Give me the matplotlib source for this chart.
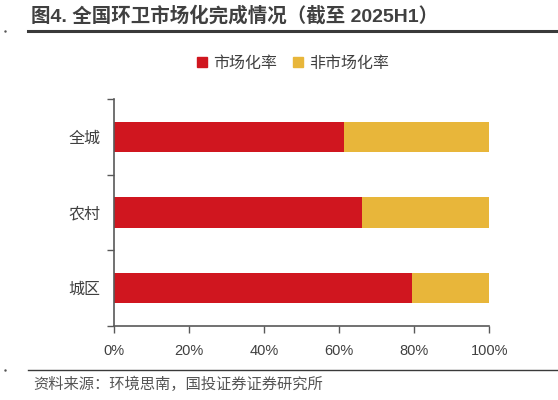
import matplotlib.pyplot as plt
from matplotlib.lines import Line2D
from matplotlib.patches import Patch

plt.rcParams['font.family'] = ['Liberation Sans', 'Noto Sans CJK SC', 'DejaVu Sans']

# data (bottom to top)
categories = ['城区', '农村', '全城']
market_rate = [79.4, 66.0, 61.3]
non_market_rate = [20.6, 34.0, 38.7]
xticks = [0, 20, 40, 60, 80, 100]

red = '#D0161F'
yellow = '#E8B63A'
text_color = '#404040'
axis_color = '#595959'

fig = plt.figure(figsize=(5.58, 4.0), dpi=100)
ax = fig.add_axes([0.2048, 0.185, 0.6721, 0.5675])

ypos = list(range(len(categories)))
ax.barh(ypos, market_rate, height=0.4, color=red, label='市场化率')
ax.barh(ypos, non_market_rate, left=market_rate, height=0.4, color=yellow, label='非市场化率')

ax.set_xlim(0, 100)
ax.set_ylim(-0.5, len(categories) - 0.5)
ax.set_xticks(xticks)
ax.set_xticklabels([f'{v}%' for v in xticks], fontsize=10.5, color=text_color)

# tick marks between categories, labels at centres
ax.set_yticks([i - 0.5 for i in range(len(categories) + 1)])
ax.set_yticklabels([])
ax.set_yticks(ypos, minor=True)
ax.set_yticklabels(categories, minor=True, fontsize=11.5, color=text_color)
ax.tick_params(axis='y', which='major', length=5, width=1, color=axis_color, direction='out')
ax.tick_params(axis='y', which='minor', length=0, pad=10)
ax.tick_params(axis='x', length=5, width=1, color=axis_color, direction='out', pad=8)

for s in ['top', 'right']:
    ax.spines[s].set_visible(False)
for s in ['left', 'bottom']:
    ax.spines[s].set_color(axis_color)
    ax.spines[s].set_linewidth(1.2)

fig.legend(handles=[Patch(color=red, label='市场化率'), Patch(color=yellow, label='非市场化率')],
           loc='center', bbox_to_anchor=(293 / 558, 1 - 63 / 400), ncol=2, frameon=False,
           fontsize=11.5, handlelength=0.6, handleheight=0.6, handletextpad=0.4, columnspacing=1.0,
           labelcolor=text_color)

# title and rules
fig.text(31 / 558, 1 - 16 / 400, '图4. 全国环卫市场化完成情况（截至 2025H1）', fontsize=14,
         fontweight='bold', color=text_color, ha='left', va='center')
fig.add_artist(Line2D([28 / 558, 1], [1 - 31 / 400, 1 - 31 / 400], color='#3a3a3a', lw=2.2))
fig.add_artist(Line2D([28 / 558, 1], [1 - 370 / 400, 1 - 370 / 400], color='#3a3a3a', lw=1.0))
fig.text(33 / 558, 1 - 384 / 400, '资料来源：环境思南，国投证券证券研究所', fontsize=11,
         color='#555555', ha='left', va='center', style='italic')
fig.add_artist(Line2D([5 / 558], [1 - 31 / 400], marker='.', ms=1.5, color='#555555'))
fig.add_artist(Line2D([5 / 558], [1 - 370 / 400], marker='.', ms=1.5, color='#555555'))

fig.savefig('out.png', dpi=100)
